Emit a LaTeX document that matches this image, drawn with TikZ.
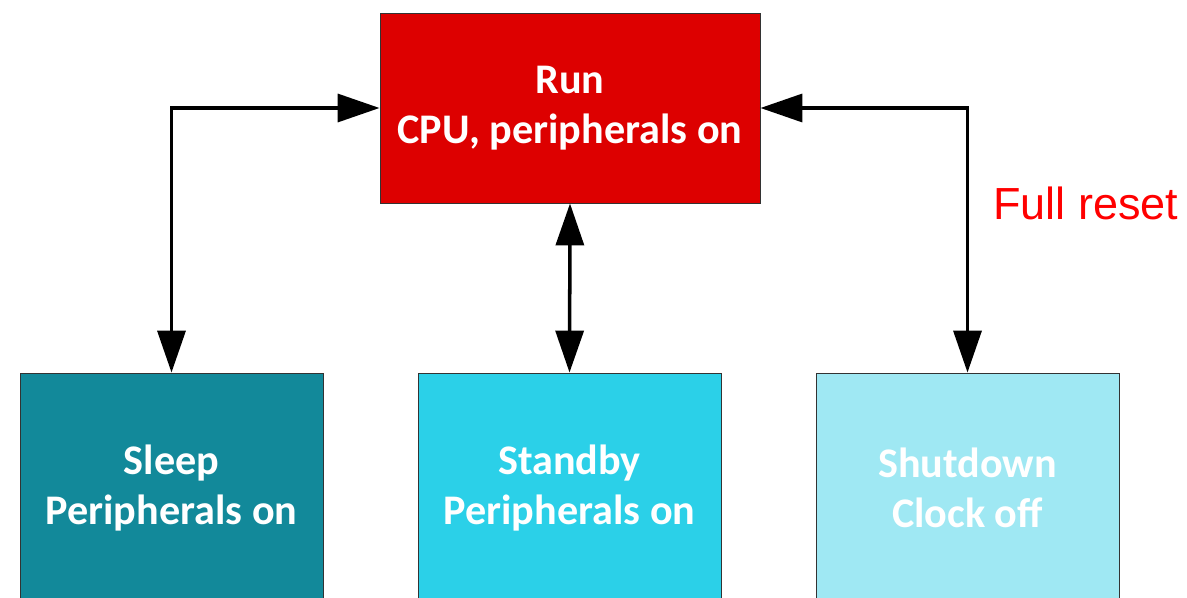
\documentclass[tikz,border=0pt]{standalone}
\usepackage{fontspec}
\setmainfont{Carlito}
\newfontfamily\labelfont{Liberation Sans}
\usepackage{xcolor}
\usetikzlibrary{positioning,calc,arrows.meta}

\definecolor{runred}{HTML}{DD0000}
\definecolor{sleepteal}{HTML}{12899A}
\definecolor{standbycyan}{HTML}{2BD0E8}
\definecolor{shutcyan}{HTML}{9FE8F3}
\definecolor{resetred}{HTML}{FF0000}

\tikzset{
    statebox/.style={draw=black!80, line width=0.5pt, rectangle, align=center,
        text=white, font=\bfseries\fontsize{24}{28.5}\selectfont,
        minimum width=6.06cm, minimum height=4.6cm, inner sep=0pt},
    link/.style={line width=2pt, {Triangle[length=8.4mm,width=5.6mm]}-{Triangle[length=8.4mm,width=5.6mm]}}
}

\begin{document}
\begin{tikzpicture}
    \useasboundingbox (0,0) rectangle (23.74,11.94);
    \clip (0,0) rectangle (23.74,11.94);

    \node[statebox, fill=runred, minimum width=7.6cm, minimum height=3.8cm] at (11.4,9.78) (run) {Run\\CPU, peripherals on};
    \node[statebox, fill=sleepteal] at (3.43,2.18) (sleep) {Sleep\\Peripherals on};
    \node[statebox, fill=standbycyan] at (11.39,2.18) (standby) {Standby\\Peripherals on};
    \node[statebox, fill=shutcyan] at (19.35,2.18) (shut) {Shutdown\\Clock off};

    \draw[link] (run.west) -| (sleep.north);
    \draw[link] (run.south) -- (standby.north);
    \draw[link] (run.east) -| (shut.north);

    \node[anchor=west, inner sep=0pt, text=resetred, font=\labelfont\fontsize{25.6}{30}\selectfont] at (19.86,7.88) (reset) {Full reset};
\end{tikzpicture}
\end{document}
